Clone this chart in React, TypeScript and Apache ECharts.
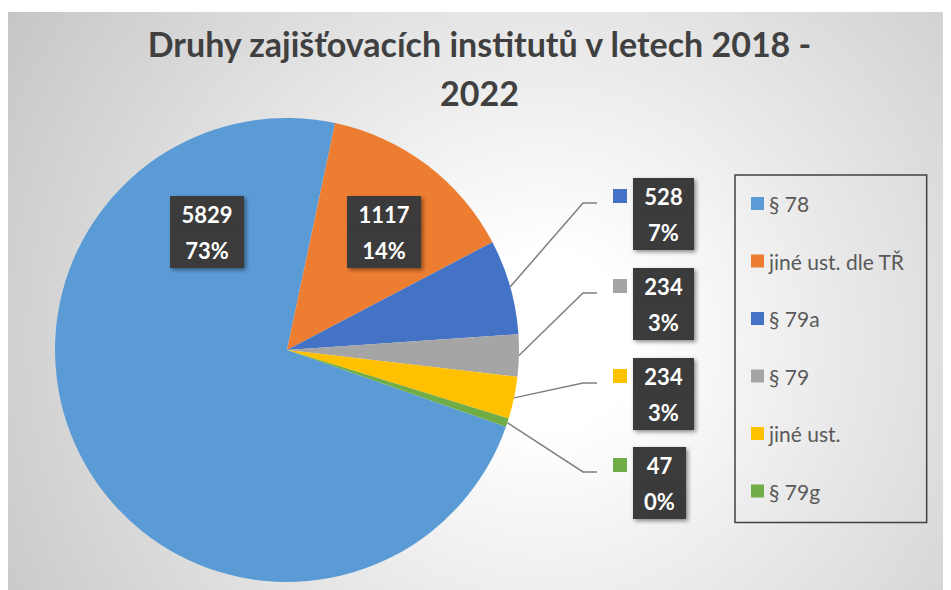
import React, { useEffect, useRef } from 'react';
import * as echarts from 'echarts';

const categories = ['§ 78', 'jiné ust. dle TŘ', '§ 79a', '§ 79', 'jiné ust.', '§ 79g'];
const values = [5829, 1117, 528, 234, 234, 47];
const percentLabels = ['73%', '14%', '7%', '3%', '3%', '0%'];
const colors = ['#5B9BD5', '#ED7D31', '#4472C4', '#A5A5A5', '#FFC000', '#70AD47'];
const titleText = 'Druhy zajišťovacích institutů v letech 2018 -\n2022';

const W = 943;
const H = 578;
const FONT = 'Lato, "Open Sans", sans-serif';
const LABEL_FS = 22;
const BOX_BG = '#3b3b3b';

// top-left anchors of label blocks (layout only)
const labelAnchors: number[][] = [
  [162, 184],
  [339, 184],
  [605, 166],
  [605, 256],
  [605, 346],
  [605, 435],
];

function measure(text: string): number {
  const c = document.createElement('canvas').getContext('2d');
  if (!c) return text.length * 13;
  c.font = `bold ${LABEL_FS}px ${FONT}`;
  return c.measureText(text).width;
}

export default function App() {
  const ref = useRef<HTMLDivElement>(null);
  useEffect(() => {
    if (!ref.current) return;
    const chart = echarts.init(ref.current, undefined, { renderer: 'svg' });
    const data = values.map((v, i) => {
      const boxW = Math.ceil(Math.max(measure(String(v)), measure(percentLabels[i]))) + 22;
      const outside = i >= 2;
      const seg = {
        width: boxW,
        height: 36,
        lineHeight: 36,
        align: 'center',
        backgroundColor: BOX_BG,
        color: '#ffffff',
        fontFamily: FONT,
        fontSize: LABEL_FS,
        fontWeight: 'bold',
        shadowColor: 'rgba(0,0,0,0.45)',
        shadowBlur: 4,
        shadowOffsetX: 2,
        shadowOffsetY: 2,
      };
      return {
        name: categories[i],
        value: v,
        itemStyle: { color: colors[i] },
        label: {
          position: outside ? 'outside' : 'inside',
          formatter: outside
            ? `{sq|}{gap|}{v|${v}}\n{sq0|}{gap|}{p|${percentLabels[i]}}`
            : `{v|${v}}\n{p|${percentLabels[i]}}`,
          rich: {
            sq: { width: 14, height: 14, backgroundColor: colors[i] },
            sq0: { width: 14, height: 14 },
            gap: { width: 6, height: 14 },
            v: seg,
            p: seg,
          },
        },
        labelLine: { show: outside },
      };
    });
    chart.setOption({
      animation: false,
      backgroundColor: 'transparent',
      title: {
        text: titleText,
        left: 'center',
        top: 2,
        textStyle: {
          fontFamily: FONT,
          fontSize: 34,
          fontWeight: 'bold',
          color: '#404040',
          lineHeight: 49,
        },
      },
      legend: {
        orient: 'vertical',
        left: 727,
        top: 163,
        data: categories,
        icon: 'rect',
        itemWidth: 13,
        itemHeight: 13,
        itemGap: 36.5,
        padding: [18, 22, 21, 16],
        borderColor: '#404040',
        borderWidth: 1.5,
        textStyle: {
          fontFamily: FONT,
          fontSize: 21,
          color: '#595959',
          lineHeight: 20,
        },
      },
      series: [
        {
          type: 'pie',
          center: [279, 338],
          radius: 232,
          startAngle: -19.3,
          clockwise: true,
          avoidLabelOverlap: false,
          data,
          labelLine: {
            lineStyle: { color: '#7f7f7f', width: 1.5 },
            length: 20,
            length2: 15,
          },
          labelLayout: (params: any) => {
            const i = params.dataIndex;
            const [x, y] = labelAnchors[i];
            const res: any = { x, y, align: 'left', verticalAlign: 'top' };
            if (i >= 2 && params.labelLinePoints) {
              const p0 = params.labelLinePoints[0];
              res.labelLinePoints = [p0, [575, y + 25], [589, y + 25]];
            }
            return res;
          },
          emphasis: { disabled: true },
        },
      ],
    });
    return () => chart.dispose();
  }, []);
  return (
    <div
      ref={ref}
      style={{
        width: W,
        height: H,
        marginTop: 4,
        background:
          'radial-gradient(circle farthest-corner at 57% 57%, #ffffff 0%, #ffffff 14%, #c6c6c6 100%)',
      }}
    />
  );
}
